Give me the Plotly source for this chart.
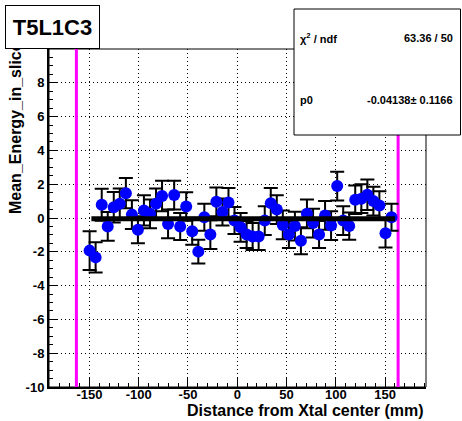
import plotly.graph_objects as go

# ---------------- data ----------------
x_pos = [-149.8, -143.7, -137.5, -131.4, -125.3, -119.2, -113.0, -106.9, -100.8, -94.7,
         -88.5, -82.4, -76.3, -70.2, -64.0, -57.9, -51.8, -45.7, -39.5, -33.4,
         -27.3, -21.2, -15.0, -8.9, -2.8, 3.4, 9.5, 15.6, 21.7, 27.9,
         34.0, 40.1, 46.2, 52.4, 58.5, 64.6, 70.7, 76.9, 83.0, 89.1,
         95.2, 101.4, 107.5, 113.6, 119.7, 125.9, 132.0, 138.1, 144.2, 150.4,
         156.5]
y_mean = [-1.93, -2.33, 0.78, -0.50, 0.64, 0.84, 1.47, 0.20, -0.70, 0.45,
          0.25, 0.84, 1.30, -0.35, 1.36, -0.50, 0.68, -0.78, -1.99, 0.05,
          -0.98, 0.96, 0.35, 0.92, -0.15, -0.55, -0.98, -1.10, -1.10, -0.15,
          0.88, 0.50, -0.41, -0.98, -0.48, -1.34, 0.25, -0.30, -0.98, 0.15,
          -0.45, 1.89, -0.15, -0.48, 1.08, 1.14, 1.38, 1.00, 0.74, -0.90,
          0.05]
y_err = [1.15, 0.90, 0.95, 0.85, 0.90, 0.90, 0.90, 0.85, 0.80, 0.90,
         0.85, 0.90, 0.90, 0.85, 0.85, 0.80, 0.85, 0.80, 0.70, 0.80,
         0.85, 0.85, 0.80, 0.85, 0.80, 0.85, 0.80, 0.80, 0.80, 0.85,
         0.90, 0.85, 0.85, 0.80, 0.85, 0.80, 0.85, 0.85, 0.80, 0.85,
         0.85, 0.85, 0.85, 0.80, 0.85, 0.85, 0.90, 0.85, 0.85, 0.85,
         0.80]
fit_p0 = -0.04138
fit_range = [-148.0, 160.0]
crystal_edges = [-163.2, 163.2]
x_ticks = [-150, -100, -50, 0, 50, 100, 150]
y_ticks = [-10, -8, -6, -4, -2, 0, 2, 4, 6, 8]
title_text = "T5L1C3"
stat_rows = [("χ<sup>2</sup> / ndf", "63.36 / 50"), ("p0", "-0.04138± 0.1166")]

# ---------------- layout geometry (pixels) ----------------
W, H = 462, 421
PL, PR, PT, PB = 49, 426, 49, 387
pw, ph = PR - PL, PB - PT


def px(x):
    return (x - PL) / pw


def py(y):
    return (PB - y) / ph


FONT = "Liberation Sans, Arial, Helvetica, sans-serif"

fig = go.Figure()

# magenta crystal-edge lines
for xe in crystal_edges:
    fig.add_trace(go.Scatter(x=[xe, xe], y=[-10, 10], mode="lines",
                             line=dict(color="#ff00ff", width=3),
                             hoverinfo="skip", showlegend=False))

# data points with error bars
fig.add_trace(go.Scatter(
    x=x_pos, y=y_mean, mode="markers",
    marker=dict(color="#0000ff", size=12, line=dict(width=0)),
    error_y=dict(type="data", array=y_err, visible=True, color="black",
                 thickness=2, width=7),
    showlegend=False))

# fit line
fig.add_trace(go.Scatter(x=fit_range, y=[fit_p0, fit_p0], mode="lines",
                         line=dict(color="black", width=5),
                         showlegend=False))

axis_common = dict(
    showline=True, linecolor="black", linewidth=2,
    ticks="inside", tickcolor="black", tickwidth=1, ticklen=9,
    showgrid=True, gridcolor="black", gridwidth=1, griddash="1px,3px",
    zeroline=False,
    tickfont=dict(family=FONT, size=13, color="black", weight="bold"),
)

fig.update_xaxes(range=[-191, 191.5], tickvals=x_ticks, ticktext=[str(v) for v in x_ticks],
                 minor=dict(dtick=10, tick0=0, ticks="inside", ticklen=4,
                            tickcolor="black", tickwidth=1, showgrid=False),
                 ticklabelstandoff=-6,
                 **axis_common)
fig.update_yaxes(range=[-10, 10], tickvals=y_ticks, ticktext=[str(v) for v in y_ticks],
                 minor=dict(dtick=0.5, tick0=0, ticks="inside", ticklen=4,
                            tickcolor="black", tickwidth=1, showgrid=False),
                 **axis_common)

shapes = [
    dict(type="rect", xref="paper", yref="paper", x0=0, x1=1, y0=0, y1=1,
         line=dict(color="black", width=1), layer="below"),
    dict(type="rect", xref="paper", yref="paper",
         x0=px(294), x1=px(460.5), y0=py(135), y1=py(9),
         line=dict(color="black", width=1), fillcolor="white", layer="above"),
]

annotations = [
    dict(text="Distance from Xtal center (mm)", xref="paper", yref="paper",
         x=px(426), y=py(410), xanchor="right", yanchor="middle", showarrow=False,
         font=dict(family=FONT, size=16, color="black", weight="bold")),
    dict(text="Mean_Energy_in_slice", xref="paper", yref="paper",
         x=px(15), y=py(216), xanchor="center", yanchor="bottom", textangle=-90,
         showarrow=False,
         font=dict(family=FONT, size=16, color="black", weight="bold")),
    dict(text=title_text, xref="paper", yref="paper",
         x=px(52.5), y=py(27), xanchor="center", yanchor="middle", showarrow=False,
         width=93, height=42, bgcolor="white", bordercolor="black", borderwidth=1,
         borderpad=0,
         font=dict(family=FONT, size=22, color="black", weight="bold")),
]

row_y = [38, 100]
for (lab, val), yy in zip(stat_rows, row_y):
    annotations.append(dict(text=lab, xref="paper", yref="paper", x=px(298), y=py(yy),
                            xanchor="left", yanchor="middle", showarrow=False,
                            font=dict(family=FONT, size=11, color="black", weight="bold")))
    annotations.append(dict(text=val, xref="paper", yref="paper", x=px(455), y=py(yy),
                            xanchor="right", yanchor="middle", showarrow=False,
                            font=dict(family=FONT, size=11, color="black", weight="bold")))

fig.update_layout(
    width=W, height=H, autosize=False,
    margin=dict(l=PL, r=W - PR, t=PT, b=H - PB, pad=0),
    paper_bgcolor="white", plot_bgcolor="white",
    showlegend=False, hovermode=False,
    shapes=shapes, annotations=annotations,
    font=dict(family=FONT, color="black"),
)

fig.write_html("out.html", config={"displayModeBar": False},
               post_script="document.body.style.margin='0';document.body.style.overflow='hidden';")
